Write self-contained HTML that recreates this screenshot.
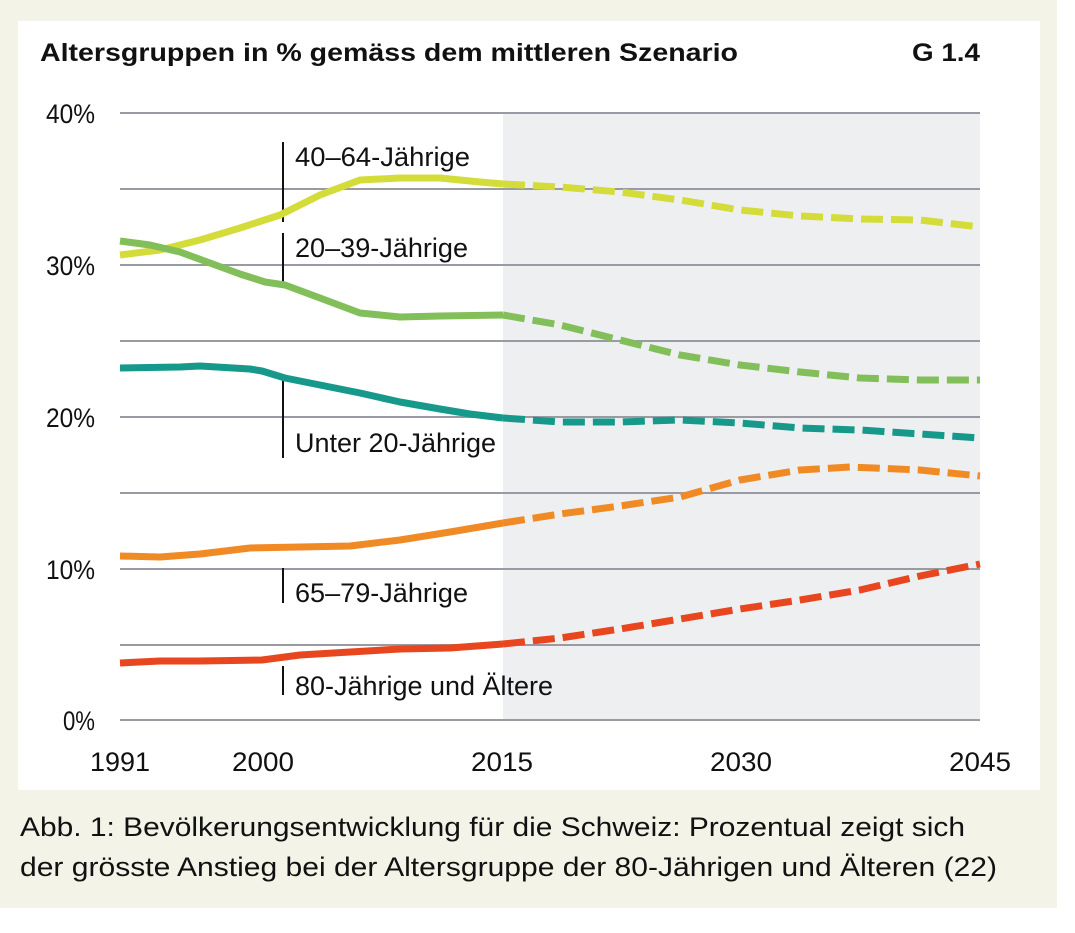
<!DOCTYPE html>
<html><head><meta charset="utf-8"><style>
html,body{margin:0;padding:0;background:#fff;}
body{width:1075px;height:933px;position:relative;overflow:hidden;}
</style></head><body>
<svg width="1075" height="933" xmlns="http://www.w3.org/2000/svg" style="position:absolute;left:0;top:0">
<rect x="0" y="0" width="1057" height="908" fill="#f3f4e7"/>
<rect x="18" y="21" width="1022" height="769" fill="#fff"/>
<rect x="503" y="113" width="477" height="607" fill="#eeeff1"/>
<g stroke="#9a9aa2" stroke-width="2">
<line x1="120" x2="980" y1="113" y2="113"/><line x1="120" x2="980" y1="189" y2="189"/>
<line x1="120" x2="980" y1="265" y2="265"/><line x1="120" x2="980" y1="341" y2="341"/>
<line x1="120" x2="980" y1="417" y2="417"/><line x1="120" x2="980" y1="493" y2="493"/>
<line x1="120" x2="980" y1="569" y2="569"/><line x1="120" x2="980" y1="645" y2="645"/>
<line x1="120" x2="980" y1="720" y2="720"/>
</g>
<text x="40" y="61" font-family="Liberation Sans, sans-serif" font-weight="bold" font-size="25" fill="#111" textLength="698" lengthAdjust="spacingAndGlyphs">Altersgruppen in % gemäss dem mittleren Szenario</text>
<text x="980" y="61" font-family="Liberation Sans, sans-serif" font-weight="bold" font-size="25" fill="#111" text-anchor="end" textLength="68" lengthAdjust="spacingAndGlyphs">G 1.4</text>
<g font-family="Liberation Sans, sans-serif" font-size="27" fill="#111">
<text x="95" y="123" text-anchor="end" textLength="49" lengthAdjust="spacingAndGlyphs">40%</text>
<text x="95" y="275" text-anchor="end" textLength="49" lengthAdjust="spacingAndGlyphs">30%</text>
<text x="95" y="427" text-anchor="end" textLength="49" lengthAdjust="spacingAndGlyphs">20%</text>
<text x="95" y="579" text-anchor="end" textLength="49" lengthAdjust="spacingAndGlyphs">10%</text>
<text x="95" y="730" text-anchor="end" textLength="32" lengthAdjust="spacingAndGlyphs">0%</text>
<text x="120" y="771" text-anchor="middle" textLength="60" lengthAdjust="spacingAndGlyphs">1991</text>
<text x="263" y="771" text-anchor="middle" textLength="62" lengthAdjust="spacingAndGlyphs">2000</text>
<text x="502" y="771" text-anchor="middle" textLength="62" lengthAdjust="spacingAndGlyphs">2015</text>
<text x="741" y="771" text-anchor="middle" textLength="62" lengthAdjust="spacingAndGlyphs">2030</text>
<text x="980" y="771" text-anchor="middle" textLength="62" lengthAdjust="spacingAndGlyphs">2045</text>
<text x="295" y="166" textLength="175" lengthAdjust="spacingAndGlyphs">40–64-Jährige</text>
<text x="295" y="257" textLength="173" lengthAdjust="spacingAndGlyphs">20–39-Jährige</text>
<text x="295" y="452" textLength="201" lengthAdjust="spacingAndGlyphs">Unter 20-Jährige</text>
<text x="295" y="602" textLength="173" lengthAdjust="spacingAndGlyphs">65–79-Jährige</text>
<text x="295" y="695" textLength="258" lengthAdjust="spacingAndGlyphs">80-Jährige und Ältere</text>
</g>
<g stroke="#111" stroke-width="2">
<line x1="283" x2="283" y1="142" y2="222"/><line x1="283" x2="283" y1="233" y2="285"/>
<line x1="283" x2="283" y1="380" y2="458"/><line x1="283" x2="283" y1="568" y2="603"/>
<line x1="283" x2="283" y1="666" y2="695"/>
</g>
<g fill="none" stroke-width="7" stroke-linejoin="round">
<polyline stroke="#d4dc3a" points="120,255 160,250 200,240 240,228 280,215 320,195 360,180 400,178 440,178 480,182 503,184"/>
<polyline stroke="#d4dc3a" stroke-dasharray="22,8" points="503,184 560,187 620,192 680,200 740,210 800,216 860,219 920,220 980,227"/>
<polyline stroke="#82bf5a" points="120,241 150,245 180,252 210,263 240,274 265,282 285,285 320,298 360,313 400,317 440,316 503,315"/>
<polyline stroke="#82bf5a" stroke-dasharray="22,8" points="503,315 560,325 620,340 680,355 740,365 800,372 860,378 920,380 980,380"/>
<polyline stroke="#16998a" points="120,368 180,367 200,366 250,369 262,371 285,378 320,385 360,393 400,402 440,409 470,414 503,418"/>
<polyline stroke="#16998a" stroke-dasharray="22,8" points="503,418 560,422 620,422 680,420 740,423 800,428 860,430 920,434 980,438"/>
<polyline stroke="#f08a25" points="120,556 160,557 200,554 250,548 300,547 350,546 400,540 450,532 503,523"/>
<polyline stroke="#f08a25" stroke-dasharray="22,8" points="503,523 560,514 620,506 680,497 740,480 800,470 850,467 920,470 980,476"/>
<polyline stroke="#e8461e" points="120,663 160,661 200,661 262,660 300,655 350,652 400,649 450,648 503,644"/>
<polyline stroke="#e8461e" stroke-dasharray="22,8" points="503,644 560,638 620,629 680,619 740,609 800,600 860,590 920,576 980,564"/>
</g>
<g font-family="Liberation Sans, sans-serif" font-size="27" fill="#111">
<text x="20" y="836" textLength="945" lengthAdjust="spacingAndGlyphs">Abb. 1: Bevölkerungsentwicklung für die Schweiz: Prozentual zeigt sich</text>
<text x="20" y="876" textLength="977" lengthAdjust="spacingAndGlyphs">der grösste Anstieg bei der Altersgruppe der 80-Jährigen und Älteren (22)</text>
</g>
</svg>
</body></html>
